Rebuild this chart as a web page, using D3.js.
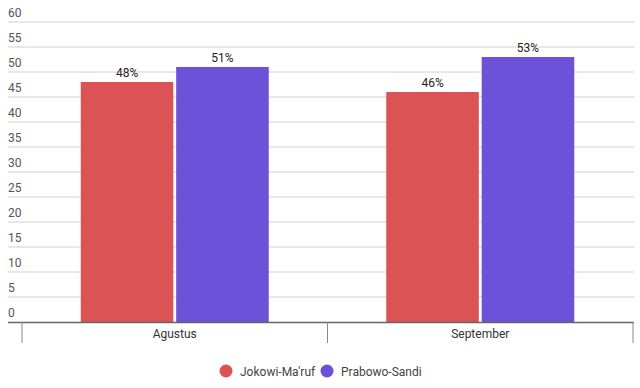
<!DOCTYPE html>
<html><head><meta charset="utf-8">
<script src="https://cdn.jsdelivr.net/npm/d3@7"></script>
<style>body{margin:0;background:#fff;}svg{display:block;font-family:Roboto,"Noto Sans",sans-serif;}</style>
</head><body><svg id="c" width="640" height="388"></svg>
<script>
const categories = ["Agustus", "September"];
const seriesNames = ["Jokowi-Ma'ruf", "Prabowo-Sandi"];
const jokowi = [48, 46];
const prabowo = [51, 53];
const yTicks = [0, 5, 10, 15, 20, 25, 30, 35, 40, 45, 50, 55, 60];
const colors = ["#db5355", "#6b52d9"];

const svg = d3.select("#c");
const y = d3.scaleLinear().domain([0, 60]).range([322, 22]);
const x0 = d3.scaleBand().domain(categories).range([22, 633]).paddingInner(0).paddingOuter(0);
const x1 = d3.scaleBand().domain(seriesNames).range([0, 188]).paddingInner(0.03);

// gridlines + labels
const g = svg.append("g");
yTicks.forEach(t => {
  if (t > 0) g.append("line").attr("x1", 8).attr("x2", 634).attr("y1", y(t)).attr("y2", y(t))
    .attr("stroke", "#d0d0d0").attr("stroke-width", 1);
  g.append("text").attr("x", 8).attr("y", y(t) - 5).attr("font-size", 12).attr("fill", "#555").text(t);
});

const data = categories.map((c, i) => ({c, vals: [jokowi[i], prabowo[i]]}));
data.forEach(d => {
  const cx = x0(d.c) + x0.bandwidth() / 2;
  const start = cx - 94;
  d.vals.forEach((v, j) => {
    const bx = start + x1(seriesNames[j]);
    svg.append("rect").attr("x", bx).attr("y", y(v)).attr("width", x1.bandwidth())
      .attr("height", y(0) - y(v)).attr("fill", colors[j]);
    svg.append("text").attr("x", bx + x1.bandwidth() / 2).attr("y", y(v) - 5)
      .attr("text-anchor", "middle").attr("font-size", 12).attr("fill", "#222").text(v + "%");
  });
});

// x axis
svg.append("line").attr("x1", 8).attr("x2", 634).attr("y1", 322.5).attr("y2", 322.5)
  .attr("stroke", "#666").attr("stroke-width", 1.5);
const tickXs = [x0.range()[0]].concat(categories.map(c => x0(c) + x0.bandwidth()));
tickXs.forEach(tx => {
  svg.append("line").attr("x1", tx).attr("x2", tx).attr("y1", 322).attr("y2", 343)
    .attr("stroke", "#888").attr("stroke-width", 1);
});
categories.forEach(c => {
  svg.append("text").attr("x", x0(c) + x0.bandwidth() / 2).attr("y", 338)
    .attr("text-anchor", "middle").attr("font-size", 12).attr("fill", "#333").text(c);
});

// legend
const legX = [226, 327];
seriesNames.forEach((s, i) => {
  svg.append("circle").attr("cx", legX[i]).attr("cy", 371).attr("r", 6.5).attr("fill", colors[i]);
  svg.append("text").attr("x", legX[i] + 14).attr("y", 375.5).attr("font-size", 12).attr("fill", "#444").text(s);
});
</script></body></html>
